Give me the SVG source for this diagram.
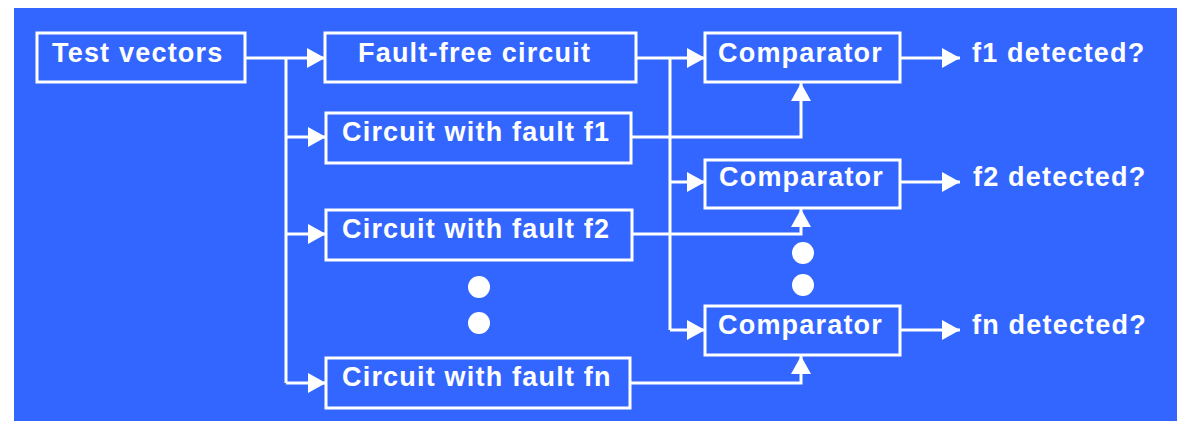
<svg xmlns="http://www.w3.org/2000/svg" width="1182" height="423" viewBox="0 0 1182 423">
<defs>
<style>
.box{fill:none;stroke:#fff;stroke-width:3}
.ln{fill:none;stroke:#fff;stroke-width:3;stroke-linejoin:miter}
.arr{marker-end:url(#ah)}
text{font-family:"Liberation Sans",Arial,sans-serif;font-weight:bold;font-size:27px;fill:#fff;letter-spacing:1.2px}
.dot{fill:#fff}
</style>
<marker id="ah" markerUnits="userSpaceOnUse" markerWidth="20" markerHeight="20" refX="18" refY="10" orient="auto">
<path d="M0,0 L18,10 L0,20 Z" fill="#fff"/>
</marker>
</defs>
<rect x="0" y="0" width="1182" height="423" fill="#fff"/>
<rect x="14" y="8" width="1163" height="413" fill="#3366FF"/>
<g id="connectors">
<path class="ln arr" d="M245,58 H325"/>
<path class="ln" d="M286,58 V383"/>
<path class="ln arr" d="M286,137 H326"/>
<path class="ln arr" d="M286,234 H326"/>
<path class="ln arr" d="M286,383 H326"/>
<path class="ln arr" d="M636,58 H705"/>
<path class="ln" d="M670,58 V330"/>
<path class="ln arr" d="M670,182 H705"/>
<path class="ln arr" d="M670,330 H705"/>
<path class="ln arr" d="M631,137 H801 V83"/>
<path class="ln arr" d="M632,234 H801 V209"/>
<path class="ln arr" d="M630,383 H801 V356"/>
<path class="ln arr" d="M900,58 H960"/>
<path class="ln arr" d="M900,182 H960"/>
<path class="ln arr" d="M900,330 H960"/>
</g>
<g id="test-vectors"><rect class="box" x="37" y="33" width="208" height="49"/><text x="52" y="62">Test vectors</text></g>
<g id="fault-free"><rect class="box" x="325" y="33" width="311" height="49"/><text x="358" y="62">Fault-free circuit</text></g>
<g id="fault-f1"><rect class="box" x="326" y="113" width="305" height="50"/><text x="342" y="141">Circuit with fault f1</text></g>
<g id="fault-f2"><rect class="box" x="326" y="210" width="306" height="50"/><text x="342" y="238">Circuit with fault f2</text></g>
<g id="fault-fn"><rect class="box" x="326" y="358" width="304" height="50"/><text x="342" y="386">Circuit with fault fn</text></g>
<g id="comparator-1"><rect class="box" x="705" y="33" width="195" height="49"/><text x="718" y="62">Comparator</text></g>
<g id="comparator-2"><rect class="box" x="705" y="160" width="195" height="48"/><text x="719" y="186">Comparator</text></g>
<g id="comparator-3"><rect class="box" x="705" y="306" width="195" height="49"/><text x="718" y="334">Comparator</text></g>
<g id="out-f1"><text x="972" y="62">f1 detected?</text></g>
<g id="out-f2"><text x="973" y="186">f2 detected?</text></g>
<g id="out-fn"><text x="972" y="334">fn detected?</text></g>
<g id="dots-left"><circle class="dot" cx="479" cy="287" r="11"/><circle class="dot" cx="479" cy="323" r="11"/></g>
<g id="dots-right"><circle class="dot" cx="803" cy="253" r="11"/><circle class="dot" cx="803" cy="285" r="11"/></g>
</svg>
